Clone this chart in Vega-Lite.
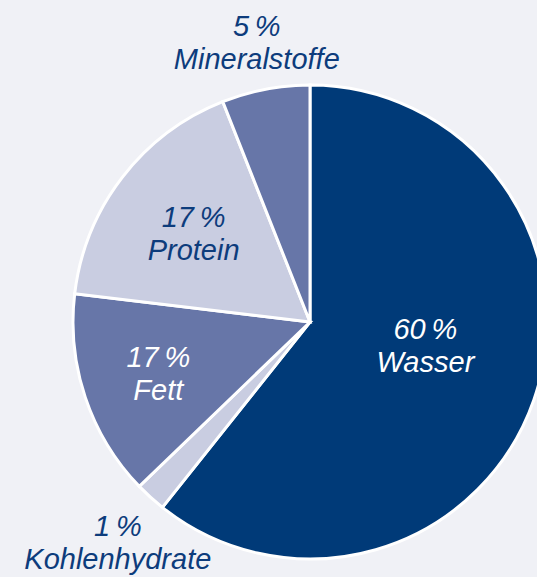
{
  "$schema": "https://vega.github.io/schema/vega-lite/v6.json",
  "width": 454,
  "height": 510,
  "autosize": {"type": "none"},
  "padding": {"left": 83, "top": 67, "right": 0, "bottom": 0},
  "background": "#f0f1f6",
  "view": {"stroke": null},
  "config": {"text": {"font": "Liberation Sans", "fontStyle": "italic", "fontSize": 29, "lineHeight": 33, "lineBreak": "\n", "align": "center", "baseline": "middle"}},
  "data": {
    "values": [
      {"name": "Wasser", "share": 60.7, "label": "60\u2009%\nWasser", "order": 1},
      {"name": "Kohlenhydrate", "share": 2.1, "label": "1\u2009%\nKohlenhydrate", "order": 2},
      {"name": "Fett", "share": 14.1, "label": "17\u2009%\nFett", "order": 3},
      {"name": "Protein", "share": 17.1, "label": "17\u2009%\nProtein", "order": 4},
      {"name": "Mineralstoffe", "share": 6.0, "label": "5\u2009%\nMineralstoffe", "order": 5}
    ]
  },
  "encoding": {
    "theta": {"field": "share", "type": "quantitative", "stack": true},
    "order": {"field": "order", "type": "quantitative"},
    "detail": {"field": "name", "type": "nominal"}
  },
  "layer": [
    {
      "mark": {"type": "arc", "outerRadius": 237, "stroke": "white", "strokeWidth": 3},
      "encoding": {
        "color": {
          "field": "name",
          "type": "nominal",
          "scale": {
            "domain": ["Wasser", "Kohlenhydrate", "Fett", "Protein", "Mineralstoffe"],
            "range": ["#003a78", "#c9cde1", "#6776a8", "#c9cde1", "#6776a8"]
          },
          "legend": null
        }
      }
    },
    {
      "mark": {"type": "text", "radius": 118, "color": "white", "dx": 4, "dy": -31},
      "encoding": {"text": {"field": "label", "type": "nominal", "condition": {"test": "datum.name !== 'Wasser'", "value": ""}}}
    },
    {
      "mark": {"type": "text", "radius": 147, "color": "#0d3c7c", "dy": -14},
      "encoding": {"text": {"field": "label", "type": "nominal", "condition": {"test": "datum.name !== 'Protein'", "value": ""}}}
    },
    {
      "mark": {"type": "text", "radius": 160, "color": "white", "dy": -15},
      "encoding": {"text": {"field": "label", "type": "nominal", "condition": {"test": "datum.name !== 'Fett'", "value": ""}}}
    },
    {
      "mark": {"type": "text", "radius": 284, "color": "#0d3c7c", "dy": -16},
      "encoding": {"text": {"field": "label", "type": "nominal", "condition": {"test": "datum.name !== 'Mineralstoffe'", "value": ""}}}
    },
    {
      "mark": {"type": "text", "radius": 293, "color": "#0d3c7c", "dx": 5, "dy": -12},
      "encoding": {"text": {"field": "label", "type": "nominal", "condition": {"test": "datum.name !== 'Kohlenhydrate'", "value": ""}}}
    }
  ]
}
